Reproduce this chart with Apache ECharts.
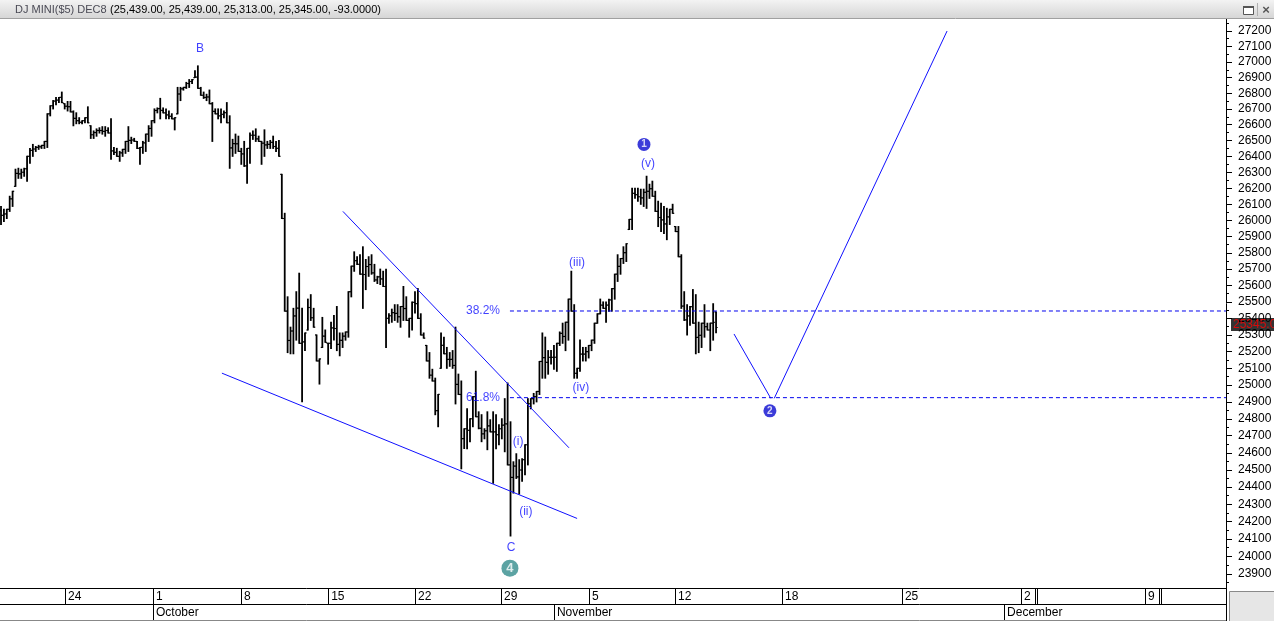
<!DOCTYPE html>
<html><head><meta charset="utf-8">
<script src="https://cdn.jsdelivr.net/npm/echarts@6/dist/echarts.min.js"></script>
<style>html,body{margin:0;padding:0;background:#fff;overflow:hidden}#c{width:1274px;height:621px}</style>
</head><body><div id="c"></div>
<script>
const titleName = 'DJ MINI($5) DEC8';
const titleValues = '(25,439.00, 25,439.00, 25,313.00, 25,345.00, -93.0000)';

const opens = [
26060,26031,26040,26069,26134,26212,26293,26290,26300,26322,
26400,26437,26446,26456,26460,26469,26494,26669,26720,26750,
26756,26773,26733,26717,26714,26681,26640,26625,26615,26625,
26644,26593,26536,26550,26563,26563,26557,26563,26547,26434,
26425,26400,26422,26444,26494,26500,26503,26494,26450,26456,
26485,26540,26576,26625,26690,26702,26690,26675,26662,26653,
26637,26669,26795,26828,26837,26862,26875,26900,26903,26831,
26787,26773,26776,26733,26684,26669,26656,26665,26676,26612,
26453,26480,26479,26431,26415,26340,26450,26533,26533,26510,
26494,26483,26472,26475,26488,26462,26450,26287,26012,25444,
25267,25324,25415,25462,25250,25259,25330,25466,25404,25300,
25144,25225,25293,25250,25250,25343,25339,25243,25268,25293,
25318,25562,25718,25752,25729,25669,25667,25716,25728,25677,
25634,25653,25640,25594,25400,25416,25435,25430,25410,25472,
25460,25388,25400,25497,25490,25400,25300,25237,25144,25059,
25024,24848,25100,25237,25187,25153,25153,25117,25004,24944,
24683,24741,24732,24800,24931,24812,24744,24711,24729,24758,
24723,24723,24706,24741,24762,24770,24529,24456,24522,24459,
24499,24560,24647,24889,24919,24931,24962,25141,25164,25135,
25165,25165,25166,25250,25310,25291,25377,25517,25444,25070,
25100,25185,25185,25200,25237,25269,25371,25428,25480,25461,
25480,25512,25581,25669,25717,25765,25801,25944,26006,26168,
26160,26147,26140,26175,26181,26197,26150,26056,26018,26003,
25978,26022,26069,25962,25931,25776,25475,25391,25415,25472,
25371,25285,25298,25371,25350,25330,25371,25439];

const highs = [
26087,26069,26069,26150,26181,26319,26325,26319,26325,26400,
26450,26475,26462,26469,26469,26494,26669,26720,26753,26773,
26773,26807,26733,26747,26747,26687,26675,26644,26625,26644,
26713,26593,26560,26573,26580,26587,26587,26580,26637,26456,
26450,26431,26444,26494,26587,26520,26513,26494,26456,26494,
26540,26593,26625,26700,26706,26767,26706,26700,26687,26669,
26644,26837,26837,26837,26869,26887,26887,26944,26975,26837,
26807,26793,26820,26740,26700,26700,26700,26687,26740,26656,
26507,26540,26527,26450,26494,26450,26547,26560,26573,26527,
26494,26567,26494,26500,26527,26494,26500,26287,26044,25531,
25347,25461,25562,25675,25461,25312,25517,25544,25461,25300,
25156,25406,25330,25250,25377,25417,25472,25312,25312,25318,
25562,25718,25806,25776,25788,25837,25759,25776,25788,25729,
25656,25700,25687,25700,25428,25456,25483,25483,25472,25594,
25531,25400,25500,25562,25581,25428,25312,25237,25194,25094,
25041,24944,25312,25287,25225,25194,25206,25347,25065,25024,
24741,24859,24800,24931,25082,24841,24824,24741,24841,24794,
24841,24824,24765,24800,24919,25012,24782,24547,24594,24559,
24565,24647,24919,24919,24950,24962,25141,25312,25287,25206,
25206,25237,25250,25318,25371,25377,25517,25687,25483,25100,
25269,25225,25225,25237,25269,25371,25428,25517,25500,25500,
25517,25581,25669,25788,25765,25837,25856,26006,26200,26200,
26200,26194,26194,26275,26225,26244,26181,26119,26106,26087,
26075,26069,26100,25962,25962,25788,25562,25483,25472,25575,
25544,25377,25371,25483,25371,25371,25489,25439];

const lows = [
25975,25994,26012,26056,26087,26212,26262,26262,26275,26244,
26356,26400,26431,26444,26450,26450,26456,26656,26700,26727,
26740,26740,26700,26687,26681,26593,26606,26606,26606,26612,
26612,26513,26513,26527,26547,26540,26527,26547,26381,26412,
26400,26369,26400,26419,26431,26481,26494,26450,26350,26419,
26431,26494,26527,26612,26675,26637,26675,26637,26637,26637,
26567,26669,26753,26820,26831,26837,26862,26900,26831,26787,
26767,26753,26733,26494,26669,26637,26612,26644,26612,26325,
26400,26419,26431,26350,26337,26231,26356,26507,26494,26494,
26350,26400,26450,26450,26450,26431,26400,26012,25444,25194,
25187,25187,25269,25250,24900,25206,25330,25388,25347,25144,
25006,25225,25256,25125,25219,25269,25206,25175,25225,25269,
25287,25531,25687,25729,25669,25461,25575,25656,25669,25625,
25612,25606,25594,25225,25371,25377,25388,25377,25347,25388,
25388,25287,25330,25433,25400,25300,25281,25144,25041,25024,
24824,24753,25100,25187,25100,25112,25100,24888,24944,24506,
24625,24623,24665,24753,24812,24741,24665,24682,24618,24723,
24422,24623,24647,24682,24606,24529,24117,24365,24450,24359,
24433,24472,24529,24859,24888,24900,24944,25041,25041,25065,
25125,25094,25082,25237,25250,25206,25269,25444,25041,25041,
25082,25144,25144,25162,25206,25250,25371,25428,25461,25377,
25444,25444,25517,25625,25669,25735,25747,25944,25944,26137,
26119,26100,26087,26075,26137,26150,26056,25962,25931,25919,
25881,25975,26044,25931,25776,25461,25388,25300,25359,25371,
25187,25194,25225,25287,25330,25206,25269,25313];

const closes = [
26031,26040,26069,26134,26181,26293,26290,26300,26322,26400,
26437,26446,26456,26460,26469,26494,26669,26720,26750,26756,
26773,26740,26717,26714,26681,26640,26625,26615,26625,26644,
26612,26536,26550,26563,26563,26557,26563,26547,26434,26425,
26400,26422,26444,26494,26500,26503,26494,26450,26456,26485,
26540,26576,26625,26690,26702,26690,26675,26662,26653,26637,
26644,26795,26828,26837,26862,26875,26887,26903,26831,26787,
26773,26776,26733,26684,26669,26656,26665,26676,26612,26453,
26480,26479,26431,26415,26340,26450,26533,26533,26510,26494,
26483,26472,26475,26488,26462,26450,26400,26012,25444,25267,
25324,25415,25462,25250,25259,25312,25466,25404,25347,25144,
25156,25293,25256,25250,25343,25339,25243,25268,25293,25318,
25562,25718,25752,25729,25669,25667,25716,25728,25677,25634,
25653,25640,25594,25400,25416,25435,25430,25410,25472,25460,
25388,25400,25497,25490,25400,25300,25281,25144,25059,25024,
24848,24944,25237,25187,25153,25153,25117,25004,24944,24683,
24741,24732,24800,24931,24812,24744,24711,24729,24758,24723,
24723,24706,24741,24762,24770,24529,24456,24522,24459,24499,
24560,24647,24889,24919,24931,24962,25141,25164,25135,25165,
25165,25166,25250,25310,25291,25377,25517,25444,25070,25100,
25185,25185,25200,25237,25269,25371,25428,25480,25461,25480,
25512,25581,25669,25717,25765,25801,25856,26006,26168,26160,
26147,26140,26175,26181,26197,26150,26056,26018,26003,25978,
26022,26069,26044,25931,25776,25475,25391,25415,25472,25371,
25285,25298,25371,25350,25330,25371,25376,25345];

const lastPrice = 25345;

const yTickLabels = [23900,24000,24100,24200,24300,24400,24500,24600,24700,24800,24900,
25000,25100,25200,25300,25400,25500,25600,25700,25800,25900,
26000,26100,26200,26300,26400,26500,26600,26700,26800,26900,27000,27100,27200];
const yMinorTicks = [23850,23950,24050,24150,24250,24350,24450,24550,24650,24750,24850,24950,
25050,25150,25250,25350,25450,25550,25650,25750,25850,25950,
26050,26150,26250,26350,26450,26550,26650,26750,26850,26950,27050,27150,27250];

// x positions are in bar slots (one slot = one 4-hour bar)
const dayTickSlots = [22.1, 52.5, 82.9, 113.0, 143.0, 172.7, 203.1, 232.8, 269.8, 311.2, 352.3, 395.2];
const dayTickLabels = ['24','1','8','15','22','29','5','12','18','25','2','9'];
const extraDayTickSlots = [357.2, 357.9, 400.0, 400.7];
const monthTickSlots = [52.5, 191.0, 346.5];
const monthTickLabels = ['October','November','December'];

const fibLevels = [25445, 24925];
const fibLabels = ['38.2%', '61.8%'];
const fibStartSlot = 175.8;
const fibLabelSlot = 166.5;

const upperTrend = [[118.1, 26056], [196.2, 24629]];
const lowerTrend = [[76.3, 25071], [199.0, 24218]];
const projectionDown = [[253.2, 25306], [265.9, 24921]];
const projectionUp = [[267.1, 24921], [326.8, 27200]];

const waveLabels = [
  ['B', 68.7, 27087], ['(iii)', 199.0, 25741], ['(iv)', 200.3, 24987], ['(v)', 223.5, 26356],
  ['(i)', 178.6, 24665], ['(ii)', 181.3, 24259], ['C', 176.2, 24050]
];
const circleLabels = [['4', 175.8, 23933], ['1', 222.1, 26475], ['2', 265.6, 24847]];

const X_MIN = -0.35, X_MAX = 423.15, Y_MIN = 23820, Y_MAX = 27278;

const chart = echarts.init(document.getElementById('c'), null, {renderer: 'canvas'});
const ohlc = opens.map((o, i) => [i, o, highs[i], lows[i], closes[i]]);
const FONT = 'Liberation Sans, Arial, sans-serif';
const BLUE = '#1010ff';
const GRID = {left: 0, right: 48, top: 19, bottom: 33, containLabel: false, outerBoundsMode: 'none'};

const trendSeries = [upperTrend, lowerTrend, projectionDown, projectionUp].map(d => ({
  type: 'line', data: d, symbol: 'none', lineStyle: {color: BLUE, width: 1}, itemStyle: {color: BLUE}, silent: true
}));
const fibSeries = fibLevels.map(v => ({
  type: 'line', data: [[fibStartSlot, v], [X_MAX, v]], symbol: 'none', silent: true,
  itemStyle: {color: '#0000ee'}, lineStyle: {color: '#0000ee', width: 1, type: [4, 3]}
}));

const option = {
  animation: false,
  backgroundColor: '#ffffff',
  grid: [Object.assign({}, GRID), Object.assign({}, GRID)],
  xAxis: [
    {type: 'value', gridIndex: 0, min: X_MIN, max: X_MAX, position: 'bottom',
     axisLine: {show: true, onZero: false, lineStyle: {color: '#000', width: 1}},
     axisTick: {show: true, length: 16, customValues: dayTickSlots.concat(extraDayTickSlots), lineStyle: {color: '#000'}},
     axisLabel: {show: true, customValues: dayTickSlots, formatter: v => dayTickLabels[dayTickSlots.indexOf(v)] || '',
       align: 'left', verticalAlign: 'top', margin: 3, padding: [0, 0, 0, 3], fontSize: 12, color: '#000', fontFamily: FONT},
     splitLine: {show: false}},
    {type: 'value', gridIndex: 0, min: X_MIN, max: X_MAX, position: 'bottom', offset: 16,
     axisLine: {show: true, onZero: false, lineStyle: {color: '#000', width: 1}},
     axisTick: {show: true, length: 16, customValues: monthTickSlots, lineStyle: {color: '#000'}},
     axisLabel: {show: true, customValues: monthTickSlots, formatter: v => monthTickLabels[monthTickSlots.indexOf(v)] || '',
       align: 'left', verticalAlign: 'top', margin: 3, padding: [0, 0, 0, 3], fontSize: 12, color: '#000', fontFamily: FONT},
     splitLine: {show: false}},
    {type: 'value', gridIndex: 1, min: X_MIN, max: X_MAX, position: 'bottom', offset: 32,
     axisLine: {show: true, onZero: false, lineStyle: {color: '#888', width: 1}},
     axisTick: {show: false}, axisLabel: {show: false}, splitLine: {show: false}}
  ],
  yAxis: [
    {type: 'log', gridIndex: 0, logBase: 10, min: Y_MIN, max: Y_MAX, position: 'right',
     axisLine: {show: true, onZero: false, lineStyle: {color: '#000', width: 1}},
     axisTick: {show: true, length: 6, customValues: yTickLabels, lineStyle: {color: '#000'}},
     axisLabel: {show: true, customValues: yTickLabels, margin: 12, fontSize: 12, color: '#000', fontFamily: FONT,
       formatter: v => String(Math.round(v))},
     splitLine: {show: false}, minorTick: {show: false}},
    {type: 'log', gridIndex: 1, logBase: 10, min: Y_MIN, max: Y_MAX, position: 'right',
     axisLine: {show: false, onZero: false},
     axisTick: {show: true, length: 3, customValues: yMinorTicks, lineStyle: {color: '#000'}},
     axisLabel: {show: false}, splitLine: {show: false}}
  ],
  series: [
    {type: 'custom', name: 'ohlc', xAxisIndex: 0, yAxisIndex: 0, data: ohlc,
     encode: {x: 0, y: [1, 2, 3, 4]},
     renderItem: (params, api) => {
       const x = api.value(0);
       const pH = api.coord([x, api.value(2)]);
       const pL = api.coord([x, api.value(3)]);
       const pO = api.coord([x, api.value(1)]);
       const pC = api.coord([x, api.value(4)]);
       const st = {stroke: '#000', lineWidth: 1.8};
       return {type: 'group', children: [
         {type: 'line', shape: {x1: pH[0], y1: pH[1] - 0.5, x2: pL[0], y2: pL[1] + 0.5}, style: st},
         {type: 'line', shape: {x1: pO[0] - 1.6, y1: pO[1], x2: pO[0], y2: pO[1]}, style: {stroke: '#000', lineWidth: 1.2}},
         {type: 'line', shape: {x1: pC[0], y1: pC[1], x2: pC[0] + 1.6, y2: pC[1]}, style: {stroke: '#000', lineWidth: 1.2}}
       ]};
     }}
  ].concat(trendSeries, fibSeries, [
    {type: 'scatter', data: [[X_MAX, lastPrice, lastPrice.toFixed(2)]], symbolSize: 0.01,
     itemStyle: {color: 'transparent'}, silent: true, z: 50, zlevel: 1,
     label: {show: true, position: 'right', distance: 5, offset: [0, -3], formatter: p => p.value[2], backgroundColor: '#000',
       color: '#ff0000', padding: [1, 2, 0, 2], fontSize: 12, fontFamily: FONT}},
    {type: 'scatter', data: waveLabels.map(d => [d[1], d[2], d[0]])
       .concat(fibLevels.map((v, i) => [fibLabelSlot, v, fibLabels[i]])),
     symbolSize: 0.01, itemStyle: {color: 'transparent'}, silent: true,
     label: {show: true, position: 'inside', formatter: p => p.value[2], color: BLUE, fontSize: 12, fontFamily: FONT}},
    {type: 'scatter', data: circleLabels.map((d, i) => ({value: [d[1], d[2], d[0]],
        symbolSize: i === 0 ? 17 : 13,
        itemStyle: {color: i === 0 ? '#338c8c' : '#0a0ad0'},
        label: {fontSize: i === 0 ? 13 : 10}})),
     silent: true,
     label: {show: true, position: 'inside', formatter: p => p.value[2], color: '#fff', fontWeight: 'bold', fontFamily: FONT}}
  ]),
  graphic: [
    {type: 'rect', shape: {x: 0, y: 0, width: 1274, height: 18}, z: 100,
     style: {fill: new echarts.graphic.LinearGradient(0, 0, 0, 1, [{offset: 0, color: '#f3f3f3'}, {offset: 1, color: '#d6d6d6'}])}},
    {type: 'line', shape: {x1: 0, y1: 18.5, x2: 1274, y2: 18.5}, z: 100, style: {stroke: '#a0a0a0', lineWidth: 1}},
    {type: 'text', z: 101, style: {x: 15, y: 9.5, text: '{a|' + titleName + '} {b|' + titleValues + '}', verticalAlign: 'middle',
      rich: {a: {fill: '#4a4a55', font: '11px ' + FONT}, b: {fill: '#000', font: '11px ' + FONT}}}},
    {type: 'rect', z: 101, shape: {x: 1243.5, y: 6.5, width: 10, height: 8}, style: {fill: '#fff', stroke: '#555', lineWidth: 1}},
    {type: 'rect', z: 101, shape: {x: 1243, y: 6, width: 11, height: 2}, style: {fill: '#555'}},
    {type: 'line', z: 101, shape: {x1: 1257.5, y1: 3, x2: 1257.5, y2: 16}, style: {stroke: '#b0b0b0'}},
    {type: 'text', z: 101, style: {x: 1266, y: 10, text: '×', align: 'center', verticalAlign: 'middle', font: 'bold 13px ' + FONT, fill: '#555'}},
    {type: 'line', z: 100, shape: {x1: 1226.5, y1: 588, x2: 1226.5, y2: 621}, style: {stroke: '#000', lineWidth: 1}},
    {type: 'rect', z: 100, shape: {x: 1229.5, y: 591.5, width: 45, height: 30}, style: {fill: '#e6e6e6', stroke: '#8a8a8a', lineWidth: 1}}
  ]
};
chart.setOption(option);
</script>
</body></html>
